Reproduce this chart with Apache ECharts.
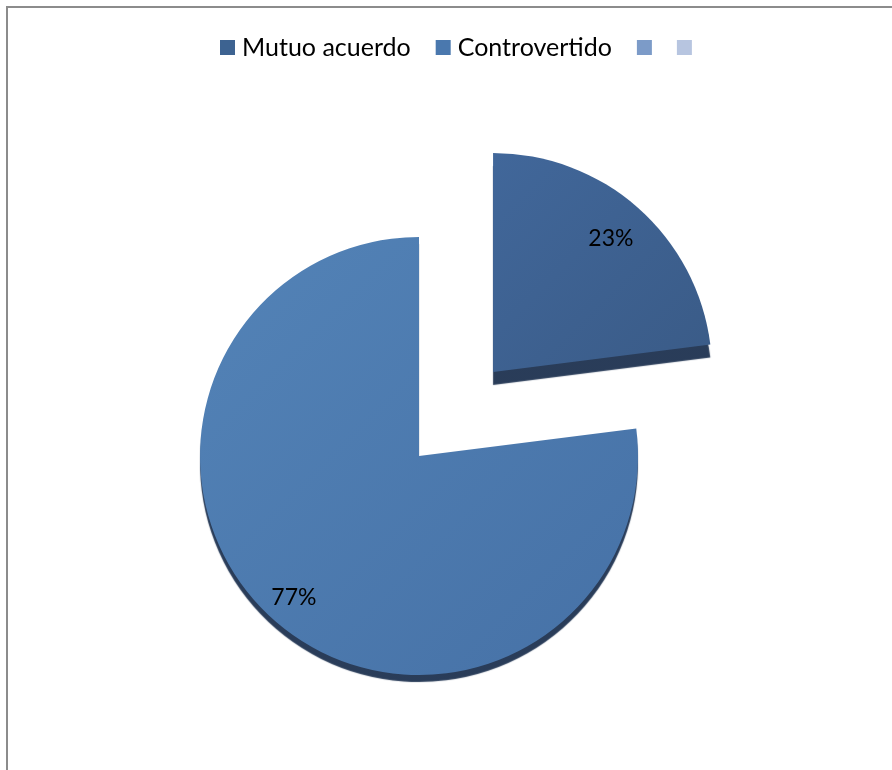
<!DOCTYPE html>
<html>
<head>
<meta charset="utf-8">
<script src="https://cdn.jsdelivr.net/npm/echarts@6/dist/echarts.min.js"></script>
<style>
html,body{margin:0;padding:0;background:#fff;}
#frame{position:absolute;left:6px;top:6px;width:2000px;height:2000px;border-left:2px solid #8c8c8c;border-top:2px solid #8c8c8c;box-sizing:border-box;}
#chart{position:absolute;left:0;top:0;width:892px;height:770px;}
</style>
</head>
<body>
<div id="frame"></div>
<div id="chart"></div>
<script>
const categories = ['Mutuo acuerdo', 'Controvertido', ' ', '  '];
const values = [23, 77, 0, 0];
const colors = ['#3d6391', '#4a78ae', '#7c9bc8', '#b7c5e0'];
const explodedIndex = 0;

const gradients = [
  new echarts.graphic.LinearGradient(0, 0, 1, 1, [{offset: 0, color: '#41679a'}, {offset: 1, color: '#3a5b87'}]),
  new echarts.graphic.LinearGradient(0, 0, 1, 1, [{offset: 0, color: '#5383b7'}, {offset: 1, color: '#4671a6'}]),
  colors[2], colors[3]
];
const depth = [13, 7, 0, 0];

const center = [419, 456];
const R = 219;
const offset = 112;

const mainData = categories.map((n, i) => ({
  name: n, value: values[i], selected: i === explodedIndex,
  itemStyle: {color: gradients[i], shadowOffsetY: depth[i]}
}));
function labelSeries(idx, inner) {
  return {
    type: 'pie',
    center: center,
    radius: [R * inner, R],
    startAngle: 90,
    clockwise: true,
    selectedMode: 'single',
    selectedOffset: offset,
    silent: true,
    avoidLabelOverlap: false,
    itemStyle: {color: 'rgba(0,0,0,0)'},
    labelLine: {show: false},
    data: categories.map((n, i) => ({
      name: n, value: values[i], selected: i === explodedIndex,
      label: {
        show: i === idx,
        position: 'inside',
        formatter: p => p.percent.toFixed(0) + '%',
        fontFamily: 'Lato',
        fontSize: 23,
        color: '#000'
      }
    }))
  };
}

const chart = echarts.init(document.getElementById('chart'), null, {renderer: 'canvas'});
chart.setOption({
  backgroundColor: 'transparent',
  animation: false,
  legend: {
    top: 30,
    left: 215,
    itemWidth: 15,
    itemHeight: 15,
    itemGap: 25,
    icon: 'rect',
    selectedMode: false,
    formatter: n => n.trim(),
    textStyle: {fontFamily: 'Lato', fontSize: 25, color: '#000', padding: [0, 0, 0, 2]},
    data: categories.map((n, i) => ({name: n, itemStyle: {color: colors[i]}}))
  },
  series: [
    {
      type: 'pie',
      center: center,
      radius: [0, R],
      startAngle: 90,
      clockwise: true,
      selectedMode: 'single',
      selectedOffset: offset,
      avoidLabelOverlap: false,
      label: {show: false},
      labelLine: {show: false},
      emphasis: {disabled: true},
      itemStyle: {
        borderWidth: 0,
        shadowColor: 'rgba(30,50,80,0.95)',
        shadowBlur: 1
      },
      data: mainData
    },
    labelSeries(0, 0.6),
    labelSeries(1, 0.7)
  ]
});
</script>
</body>
</html>
